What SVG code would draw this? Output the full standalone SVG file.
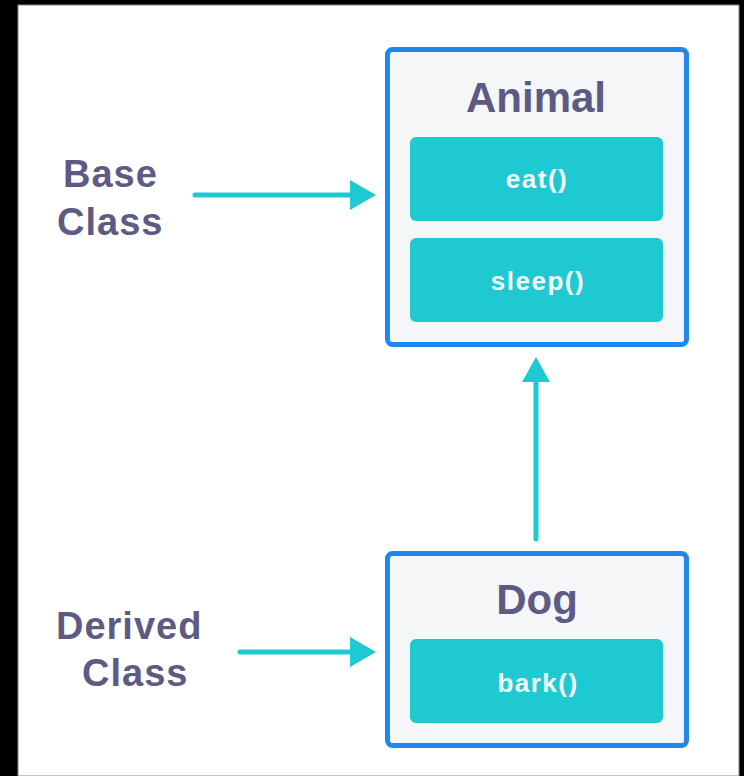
<svg xmlns="http://www.w3.org/2000/svg" width="744" height="776" viewBox="0 0 744 776">
  <style>
    .frame { fill: #f5f6f7; stroke: #1f88ef; stroke-width: 5; }
    .method { fill: #1fc9d1; }
    .title { font-family: "Liberation Sans", Arial, sans-serif; font-weight: 700; font-size: 42px; fill: #5d5a84; text-anchor: middle; }
    .mtext { font-family: "Liberation Sans", Arial, sans-serif; font-weight: 700; font-size: 26px; fill: #f4fdfd; text-anchor: middle; letter-spacing: 1.5px; }
    .label { font-family: "Liberation Sans", Arial, sans-serif; font-weight: 700; font-size: 38px; fill: #5d5a84; letter-spacing: 1px; }
    .conn { stroke: #1fc9d1; stroke-width: 5; stroke-linecap: round; fill: none; }
    .head { fill: #1fc9d1; }
  </style>
  <rect x="0" y="0" width="744" height="776" fill="#000000"/>
  <rect x="18" y="5" width="721" height="771" fill="#ffffff" stroke="#888888" stroke-width="1"/>

  <g id="label-base">
    <text class="label" x="63" y="187">Base</text>
    <text class="label" x="57" y="235">Class</text>
  </g>
  <g id="label-derived">
    <text class="label" x="56" y="639">Derived</text>
    <text class="label" x="82" y="686">Class</text>
  </g>

  <g id="node-animal">
    <rect class="frame" x="387.5" y="49.5" width="299" height="295" rx="5"/>
    <text class="title" x="536" y="112">Animal</text>
    <g id="method-eat">
      <rect class="method" x="410" y="137" width="253" height="84" rx="6"/>
      <text class="mtext" x="537" y="188">eat()</text>
    </g>
    <g id="method-sleep">
      <rect class="method" x="410" y="238" width="253" height="84" rx="6"/>
      <text class="mtext" x="538" y="290">sleep()</text>
    </g>
  </g>

  <g id="node-dog">
    <rect class="frame" x="387.5" y="553.5" width="299" height="192" rx="5"/>
    <text class="title" x="537" y="614">Dog</text>
    <g id="method-bark">
      <rect class="method" x="410" y="639" width="253" height="84" rx="6"/>
      <text class="mtext" x="538" y="692">bark()</text>
    </g>
  </g>

  <g id="connectors">
    <line class="conn" x1="195" y1="195" x2="352" y2="195"/>
    <polygon class="head" points="350,180 376,195 350,210"/>
    <line class="conn" x1="240" y1="652" x2="352" y2="652"/>
    <polygon class="head" points="350,637 376,652 350,667"/>
    <line class="conn" x1="536" y1="539" x2="536" y2="380"/>
    <polygon class="head" points="522,382 536,357 550,382"/>
  </g>
</svg>
